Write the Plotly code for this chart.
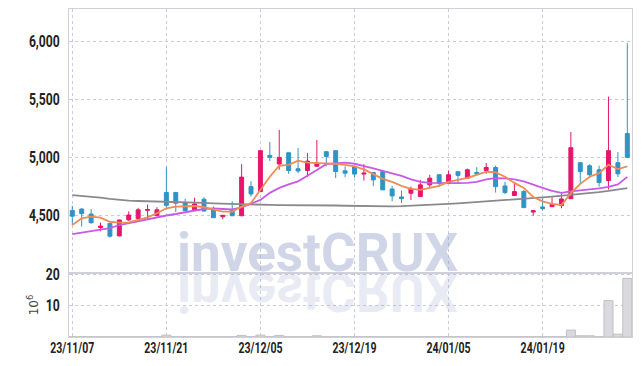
import plotly.graph_objects as go
from plotly.subplots import make_subplots

dates = ["23/11/07", "23/11/08", "23/11/09", "23/11/10", "23/11/13", "23/11/14", "23/11/15", "23/11/16", "23/11/17", "23/11/20",
         "23/11/21", "23/11/22", "23/11/23", "23/11/24", "23/11/27", "23/11/28", "23/11/29", "23/11/30", "23/12/01", "23/12/04",
         "23/12/05", "23/12/06", "23/12/07", "23/12/08", "23/12/11", "23/12/12", "23/12/13", "23/12/14", "23/12/15", "23/12/18",
         "23/12/19", "23/12/20", "23/12/21", "23/12/22", "23/12/26", "23/12/27", "23/12/28", "24/01/02", "24/01/03", "24/01/04",
         "24/01/05", "24/01/08", "24/01/09", "24/01/10", "24/01/11", "24/01/12", "24/01/15", "24/01/16", "24/01/17", "24/01/18",
         "24/01/19", "24/01/22", "24/01/23", "24/01/24", "24/01/25", "24/01/26", "24/01/29", "24/01/30", "24/01/31", "24/02/01"]

open_ = [4540, 4552, 4509, 4392, 4428, 4320, 4458, 4470, 4540, 4495,
         4694, 4694, 4607, 4538, 4636, 4555, 4486, 4544, 4494, 4745,
         4702, 5014, 4940, 5037, 4899, 4884, 4920, 5046, 5055, 4881,
         4919, 4853, 4867, 4875, 4725, 4656, 4688, 4659, 4760, 4847,
         4775, 4873, 4818, 4867, 4884, 4910, 4751, 4668, 4702, 4526,
         4570, 4572, 4581, 4641, 4951, 4925, 4890, 4797, 4951, 5202]
high = [4580, 4558, 4550, 4435, 4430, 4460, 4532, 4562, 4590, 4567,
        4913, 4700, 4641, 4650, 4653, 4575, 4500, 4619, 4939, 4792,
        5060, 5130, 5234, 5040, 5078, 5035, 5147, 5050, 5060, 4919,
        4925, 4939, 4870, 4880, 4751, 4711, 4745, 4803, 4847, 4850,
        4884, 4875, 4901, 4913, 4948, 4925, 4786, 4786, 4717, 4540,
        4645, 4653, 4688, 5216, 4957, 4939, 4925, 5520, 5043, 5981]
low = [4415, 4400, 4425, 4360, 4305, 4318, 4450, 4465, 4466, 4490,
       4565, 4526, 4535, 4535, 4530, 4475, 4463, 4490, 4490, 4659,
       4700, 4965, 4890, 4855, 4861, 4827, 4915, 4920, 4818, 4827,
       4827, 4797, 4751, 4715, 4619, 4604, 4630, 4655, 4731, 4745,
       4770, 4775, 4815, 4850, 4855, 4694, 4680, 4665, 4560, 4494,
       4538, 4570, 4558, 4638, 4769, 4818, 4745, 4720, 4827, 4997]
close = [4490, 4512, 4434, 4405, 4318, 4457, 4500, 4545, 4548, 4545,
         4584, 4602, 4538, 4596, 4535, 4477, 4498, 4494, 4827, 4682,
         5055, 4997, 4997, 4884, 4880, 4965, 4948, 5005, 4875, 4861,
         4853, 4861, 4803, 4717, 4665, 4641, 4725, 4760, 4818, 4775,
         4847, 4842, 4890, 4853, 4910, 4745, 4694, 4702, 4564, 4538,
         4555, 4590, 4639, 5081, 4875, 4847, 4780, 5055, 4855, 4997]

ma5 = [4414, 4472, 4486, 4477, 4442, 4434, 4437, 4457, 4480, 4515,
       4558, 4572, 4578, 4578, 4567, 4550, 4529, 4529, 4572, 4604,
       4717, 4830, 4925, 4933, 4968, 4951, 4948, 4948, 4942, 4933,
       4919, 4894, 4855, 4812, 4786, 4751, 4725, 4717, 4734, 4751,
       4786, 4803, 4821, 4847, 4873, 4868, 4830, 4777, 4734, 4656,
       4618, 4596, 4587, 4688, 4769, 4830, 4861, 4933, 4896, 4919]
ma20 = [4336, 4349, 4362, 4375, 4388, 4414, 4431, 4448, 4466, 4479,
        4496, 4509, 4526, 4539, 4552, 4557, 4552, 4548, 4565, 4596,
        4630, 4691, 4734, 4764, 4790, 4838, 4890, 4938, 4946, 4951,
        4942, 4925, 4903, 4881, 4860, 4838, 4808, 4786, 4777, 4775,
        4775, 4775, 4777, 4786, 4808, 4818, 4816, 4808, 4790, 4760,
        4734, 4708, 4691, 4704, 4712, 4721, 4730, 4743, 4764, 4829]
ma60 = [4671, 4666, 4659, 4650, 4640, 4630, 4624, 4621, 4619, 4618,
        4617, 4615, 4612, 4608, 4604, 4600, 4597, 4594, 4591, 4589,
        4587, 4587, 4586, 4586, 4587, 4587, 4586, 4584, 4582, 4580,
        4578, 4576, 4575, 4574, 4575, 4576, 4579, 4583, 4587, 4591,
        4596, 4601, 4606, 4611, 4616, 4621, 4626, 4632, 4638, 4645,
        4652, 4659, 4666, 4673, 4681, 4689, 4698, 4708, 4720, 4732]
volume = [0.1, 0.1, 0.1, 0.1, 0.1, 0.1, 0.1, 0.1, 0.1, 0.1,
          0.6, 0.1, 0.1, 0.1, 0.1, 0.1, 0.1, 0.1, 0.5, 0.1,
          0.6, 0.1, 0.5, 0.1, 0.1, 0.1, 0.4, 0.1, 0.1, 0.1,
          0.1, 0.1, 0.1, 0.1, 0.1, 0.1, 0.1, 0.1, 0.1, 0.1,
          0.1, 0.1, 0.1, 0.1, 0.1, 0.1, 0.1, 0.1, 0.1, 0.1,
          0.1, 0.1, 0.1, 2.2, 0.4, 0.4, 0.1, 11.6, 0.9, 18.7]

tick_dates = dates[::10]

UP = "#e5176b"
DOWN = "#2f94c5"
GRID = "#c9cbdc"
FRAME = "#cfd0da"
TICKFONT = dict(family="Roboto, Noto Sans, sans-serif", size=16, color="#222222", weight="bold")
XTICKFONT = dict(family="Roboto, Noto Sans, sans-serif", size=15.5, color="#222222", weight="bold")

fig = make_subplots(rows=2, cols=1, shared_xaxes=True, vertical_spacing=0,
                    row_heights=[0.805, 0.195])

fig.add_trace(go.Candlestick(
    x=dates, open=open_, high=high, low=low, close=close,
    increasing=dict(line=dict(color=UP, width=1), fillcolor=UP),
    decreasing=dict(line=dict(color=DOWN, width=1), fillcolor=DOWN),
    showlegend=False), row=1, col=1)

fig.add_trace(go.Scatter(x=dates, y=ma60, mode="lines",
                         line=dict(color="#8a8a8e", width=1.8), showlegend=False), row=1, col=1)
fig.add_trace(go.Scatter(x=dates, y=ma20, mode="lines",
                         line=dict(color="#c95ae6", width=1.8), showlegend=False), row=1, col=1)
fig.add_trace(go.Scatter(x=dates, y=ma5, mode="lines",
                         line=dict(color="#ee8c55", width=1.8), showlegend=False), row=1, col=1)

fig.add_trace(go.Bar(x=dates, y=volume,
                     marker=dict(color="#d9d9de", line=dict(color="#bfbfc6", width=1)),
                     showlegend=False), row=2, col=1)

xcommon = dict(type="category", range=[-0.35, 59.5], tickvals=tick_dates, ticktext=tick_dates,
               showgrid=True, gridcolor=GRID, griddash="dot", gridwidth=1,
               showline=True, linecolor=FRAME, linewidth=1, mirror=True, ticks="",
               zeroline=False, automargin=False)

fig.update_xaxes(**xcommon)
fig.update_xaxes(showticklabels=False, rangeslider_visible=False, row=1, col=1)
fig.update_xaxes(tickfont=XTICKFONT, ticklabelstandoff=-4, tickangle=0, row=2, col=1)

fig.update_yaxes(range=[4000, 6276], tickvals=[4500, 5000, 5500, 6000], tickformat=",",
                 showgrid=True, gridcolor=GRID, griddash="dot", gridwidth=1,
                 showline=True, linecolor=FRAME, linewidth=1, mirror=True, ticks="",
                 zeroline=False, tickfont=TICKFONT, ticklabelstandoff=5, automargin=False,
                 row=1, col=1)
fig.update_yaxes(range=[0, 20.4], tickvals=[10, 20],
                 showgrid=True, gridcolor=GRID, griddash="dot", gridwidth=1,
                 showline=True, linecolor=FRAME, linewidth=1, mirror=True, ticks="",
                 zeroline=False, tickfont=TICKFONT, ticklabelstandoff=5, automargin=False,
                 title=dict(text="10<sup>6</sup>", font=dict(family="DejaVu Sans, sans-serif", size=12, color="#444444"),
                            standoff=0),
                 row=2, col=1)

wm_font = dict(family="Roboto, Liberation Sans, sans-serif", size=53, weight="bold")
fig.add_annotation(text="investCRUX", xref="paper", yref="paper", x=0.443, y=0.2576,
                   xanchor="center", yanchor="middle", showarrow=False,
                   font=dict(color="rgba(150,165,205,0.45)", **wm_font))
fig.add_annotation(text="investCRUX", xref="paper", yref="paper", x=0.443, y=0.2576,
                   xanchor="center", yanchor="middle", showarrow=False,
                   font=dict(color="rgba(150,165,205,0.22)", **wm_font))

fig.update_layout(width=642, height=366, margin=dict(l=69, r=10, t=9, b=29, pad=0, autoexpand=False),
                  paper_bgcolor="white", plot_bgcolor="white",
                  boxgap=0.4, bargap=0.04, showlegend=False)

post = """
document.body.style.margin = '0';
document.body.style.padding = '0';
var gd = document.getElementById('{plot_id}');
function fixup(){
  var t = gd.querySelector('g.annotation[data-index="1"] text.annotation-text');
  if (t) {
    var y = parseFloat(t.getAttribute('y')) || 0;
    t.setAttribute('transform', 'translate(0,' + (2*y + 3) + ') scale(1,-1)');
  }
  gd.querySelectorAll('text').forEach(function(el){
    var g = el.parentNode;
    if (!g || !g.classList) return;
    var isX = false, isY = false;
    g.classList.forEach(function(c){
      if (/^x\\d*tick$/.test(c)) isX = true;
      if (/^y\\d*tick$/.test(c)) isY = true;
    });
    if (!isX && !isY) return;
    el.removeAttribute('textLength');
    el.removeAttribute('lengthAdjust');
    var w = el.getComputedTextLength();
    if (!(w > 0)) return;
    var r = isX ? 0.68 : 0.76;
    el.setAttribute('textLength', (w*r).toFixed(1));
    el.setAttribute('lengthAdjust', 'spacingAndGlyphs');
  });
}
fixup();
setTimeout(fixup, 50);
setTimeout(fixup, 300);
setTimeout(fixup, 800);
if (gd.on) { gd.on('plotly_afterplot', function(){ setTimeout(fixup, 0); }); }
"""

fig.write_html("out.html", post_script=post, config={"displayModeBar": False})
